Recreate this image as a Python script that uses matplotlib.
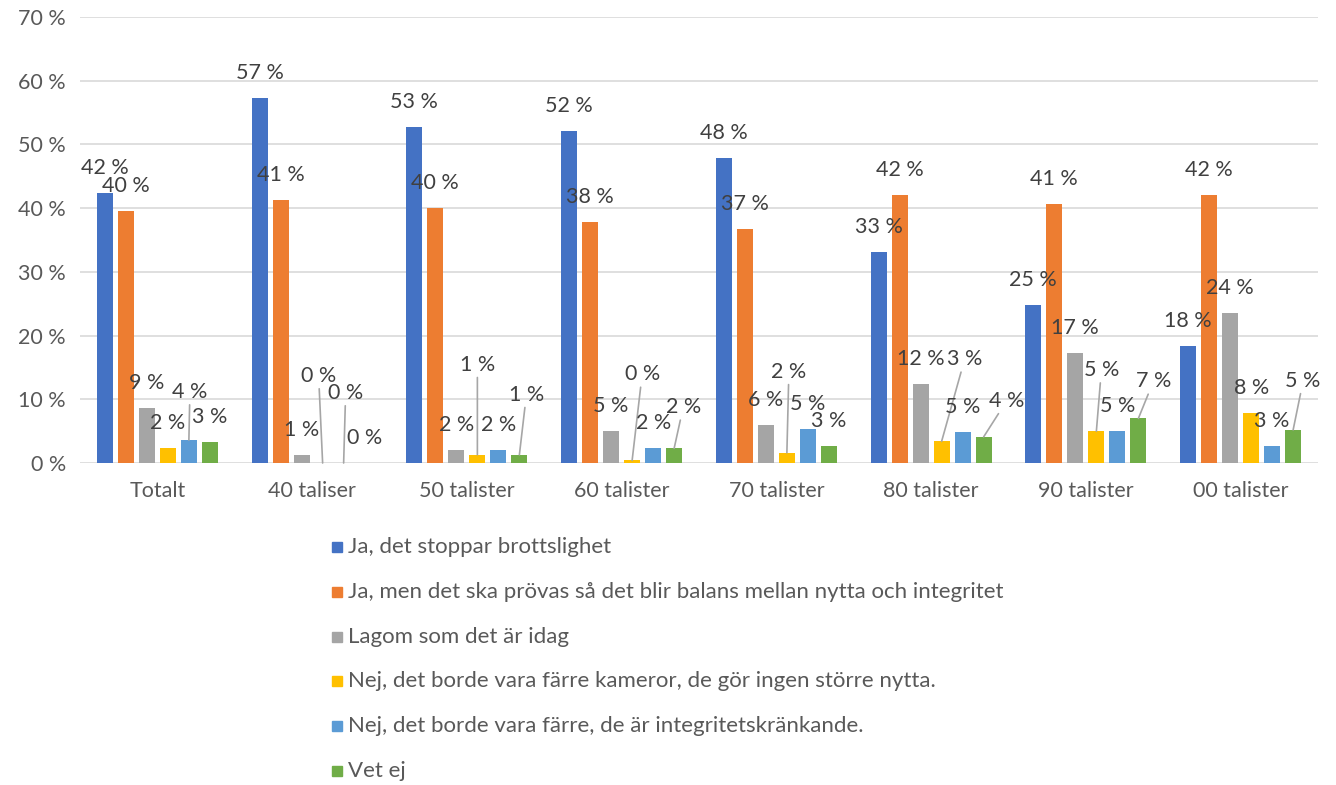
import numpy as np
import matplotlib.pyplot as plt
from matplotlib.patches import Rectangle

plt.rcParams['font.family'] = ['Lato', 'DejaVu Sans']

groups = ['Totalt', '40 taliser', '50 talister', '60 talister',
          '70 talister', '80 talister', '90 talister', '00 talister']
series = ['Ja, det stoppar brottslighet',
          'Ja, men det ska prövas så det blir balans mellan nytta och integritet',
          'Lagom som det är idag',
          'Nej, det borde vara färre kameror, de gör ingen större nytta.',
          'Nej, det borde vara färre, de är integritetskränkande.',
          'Vet ej']
ja_stoppar = [42.3, 57.3, 52.8, 52.1, 47.9, 33.1, 24.8, 18.4]
ja_men = [39.5, 41.3, 40.1, 37.8, 36.7, 42.0, 40.6, 42.1]
lagom = [8.6, 1.3, 2.1, 5.1, 5.9, 12.4, 17.2, 23.6]
nej_farre_kameror = [2.4, 0.0, 1.3, 0.4, 1.6, 3.4, 5.0, 7.9]
nej_integritet = [3.6, 0.0, 2.1, 2.3, 5.3, 4.8, 5.0, 2.6]
vet_ej = [3.3, 0.0, 1.3, 2.3, 2.6, 4.1, 7.0, 5.2]
values = [ja_stoppar, ja_men, lagom, nej_farre_kameror, nej_integritet, vet_ej]

colors = ['#4472C4', '#ED7D31', '#A5A5A5', '#FFC000', '#5B9BD5', '#70AD47']

# label offsets in pixels (series, group) -> (dx, dy); default is (0, 25)
label_moves = {
    (4, 0): (1, 48),
    (3, 1): (-4, 87), (4, 1): (2, 70),
    (3, 2): (0, 90), (5, 2): (7, 60),
    (3, 3): (10, 86), (5, 3): (9, 41),
    (3, 4): (2, 81),
    (3, 5): (23, 82), (5, 5): (23, 36),
    (3, 6): (5, 61), (5, 6): (15, 37),
    (5, 7): (10, 49),
}

fig = plt.figure(figsize=(13.36, 7.85), dpi=100)
ax = fig.add_axes([80/1336, 1-463/785, 1238/1336, 446/785])

x = np.arange(len(groups))
pitch = 21/154.7
width = 16/154.7
for i, vals in enumerate(values):
    xs = x + (i - 2.5)*pitch
    ax.bar(xs, vals, width, color=colors[i], zorder=3)
    for g, v in enumerate(vals):
        dx, dy = label_moves.get((i, g), (0, 25))
        arrow = None
        if (dx, dy) != (0, 25):
            arrow = dict(arrowstyle='-', color='#A6A6A6', lw=1.2,
                         shrinkA=0, shrinkB=0)
        ax.annotate(f'{round(v):.0f} %', xy=(xs[g], v), xytext=(dx, dy),
                    textcoords='offset pixels', ha='center', va='center',
                    fontsize=15.5, color='#404040', arrowprops=arrow,
                    annotation_clip=False, zorder=4)

ax.set_xlim(-0.5, len(groups) - 0.5)
ax.set_ylim(0, 70)
ax.set_yticks(np.arange(0, 71, 10))
ax.set_yticklabels([f'{t} %' for t in range(0, 71, 10)])
ax.set_xticks(x)
ax.set_xticklabels(groups)
ax.tick_params(length=0, labelsize=15.5, labelcolor='#595959')
ax.tick_params(axis='x', pad=13)
ax.tick_params(axis='y', pad=10)
ax.grid(axis='y', color='#D9D9D9', lw=1.2, zorder=0)
for s in ax.spines.values():
    s.set_visible(False)

# legend
for i, name in enumerate(series):
    yc = 547 + i*44.8
    fig.patches.append(Rectangle((332/1336, 1 - (yc + 5)/785), 10/1336, 10/785,
                                 transform=fig.transFigure, color=colors[i]))
    fig.text(348/1336, 1 - yc/785, name, fontsize=16, color='#595959',
             va='center', ha='left')

fig.savefig('out.png', dpi=100)
